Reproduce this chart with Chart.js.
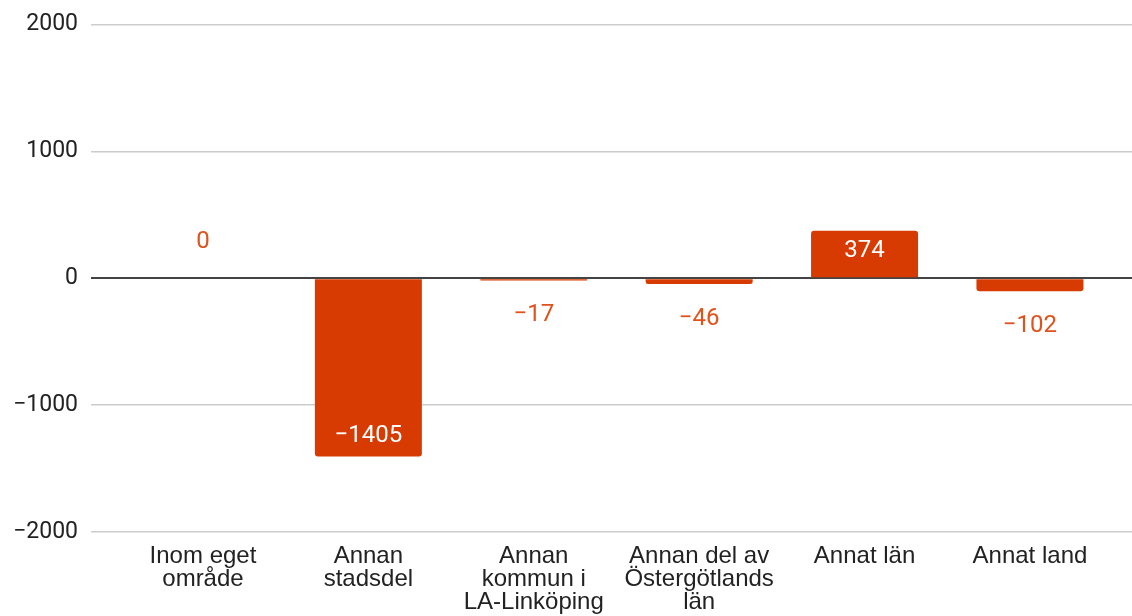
<!DOCTYPE html>
<html>
<head>
<meta charset="utf-8">
<script src="https://cdn.jsdelivr.net/npm/chart.js@4/dist/chart.umd.min.js"></script>
<style>
  html, body { margin: 0; padding: 0; background: #fff; }
  #wrap { width: 1132px; height: 616px; position: relative; }
</style>
</head>
<body>
<div id="wrap"><canvas id="chart"></canvas></div>
<script>
const categories = [
  ['Inom eget', 'område'],
  ['Annan', 'stadsdel'],
  ['Annan', 'kommun i', 'LA-Linköping'],
  ['Annan del av', 'Östergötlands', 'län'],
  ['Annat län'],
  ['Annat land']
]
const values = [0, -1405, -17, -46, 374, -102]
const yTicks = [-2000, -1000, 0, 1000, 2000]

const BAR = '#d83b01'
const LABEL = '#e0521c'
const minus = v => String(v).replace('-', '\u2212')

// value labels, inside the bar when it is long enough, else outside
const valueLabels = {
  id: 'valueLabels',
  afterDatasetsDraw(chart) {
    const ctx = chart.ctx
    const meta = chart.getDatasetMeta(0)
    ctx.save()
    ctx.textAlign = 'center'
    ctx.textBaseline = 'middle'
    meta.data.forEach((bar, i) => {
      const v = values[i]
      const len = Math.abs(bar.base - bar.y)
      let y
      if (len > 40) {
        ctx.fillStyle = '#fff'
        ctx.font = '24px Roboto'
        y = v > 0 ? bar.y + 20 : bar.y - 21
      } else {
        ctx.fillStyle = LABEL
        ctx.font = '24px Roboto'
        y = v >= 0 ? bar.y - 36 : bar.y + 35
      }
      ctx.fillText(minus(v), bar.x, y)
    })
    ctx.restore()
  }
}

new Chart(document.getElementById('chart'), {
  type: 'bar',
  data: {
    datasets: [{
      data: values.map((v, i) => ({ x: i, y: v })),
      backgroundColor: BAR,
      borderRadius: 3,
      borderSkipped: 'start',
      categoryPercentage: 1,
      barPercentage: 0.647
    }]
  },
  options: {
    responsive: true,
    maintainAspectRatio: false,
    animation: false,
    layout: { padding: { top: 22, right: 0, bottom: 0, left: 0 } },
    plugins: { legend: { display: false }, tooltip: { enabled: false } },
    scales: {
      x: {
        type: 'linear',
        offset: false,
        min: -0.677,
        max: 5.617,
        grid: { display: false, offset: false },
        border: { display: false },
        afterBuildTicks: s => { s.ticks = categories.map((c, i) => ({ value: i })) },
        afterFit: s => { s.height = 84 },
        ticks: {
          autoSkip: false,
          maxRotation: 0,
          padding: 5,
          color: '#222',
          font: { family: 'Liberation Sans', size: 24, lineHeight: 0.96 },
          callback: v => categories[v]
        }
      },
      y: {
        min: yTicks[0],
        max: yTicks[yTicks.length - 1],
        afterBuildTicks: s => { s.ticks = yTicks.map(v => ({ value: v })) },
        afterFit: s => { s.width = 91 },
        border: { display: false },
        grid: {
          drawTicks: false,
          color: c => c.tick.value === 0 ? '#444' : '#ccc',
          lineWidth: c => c.tick.value === 0 ? 2 : 1.5
        },
        ticks: {
          padding: 13,
          color: '#222',
          font: { family: 'Roboto', size: 23, lineHeight: 1 },
          callback: v => minus(v)
        }
      }
    }
  },
  plugins: [valueLabels]
})
</script>
</body>
</html>
